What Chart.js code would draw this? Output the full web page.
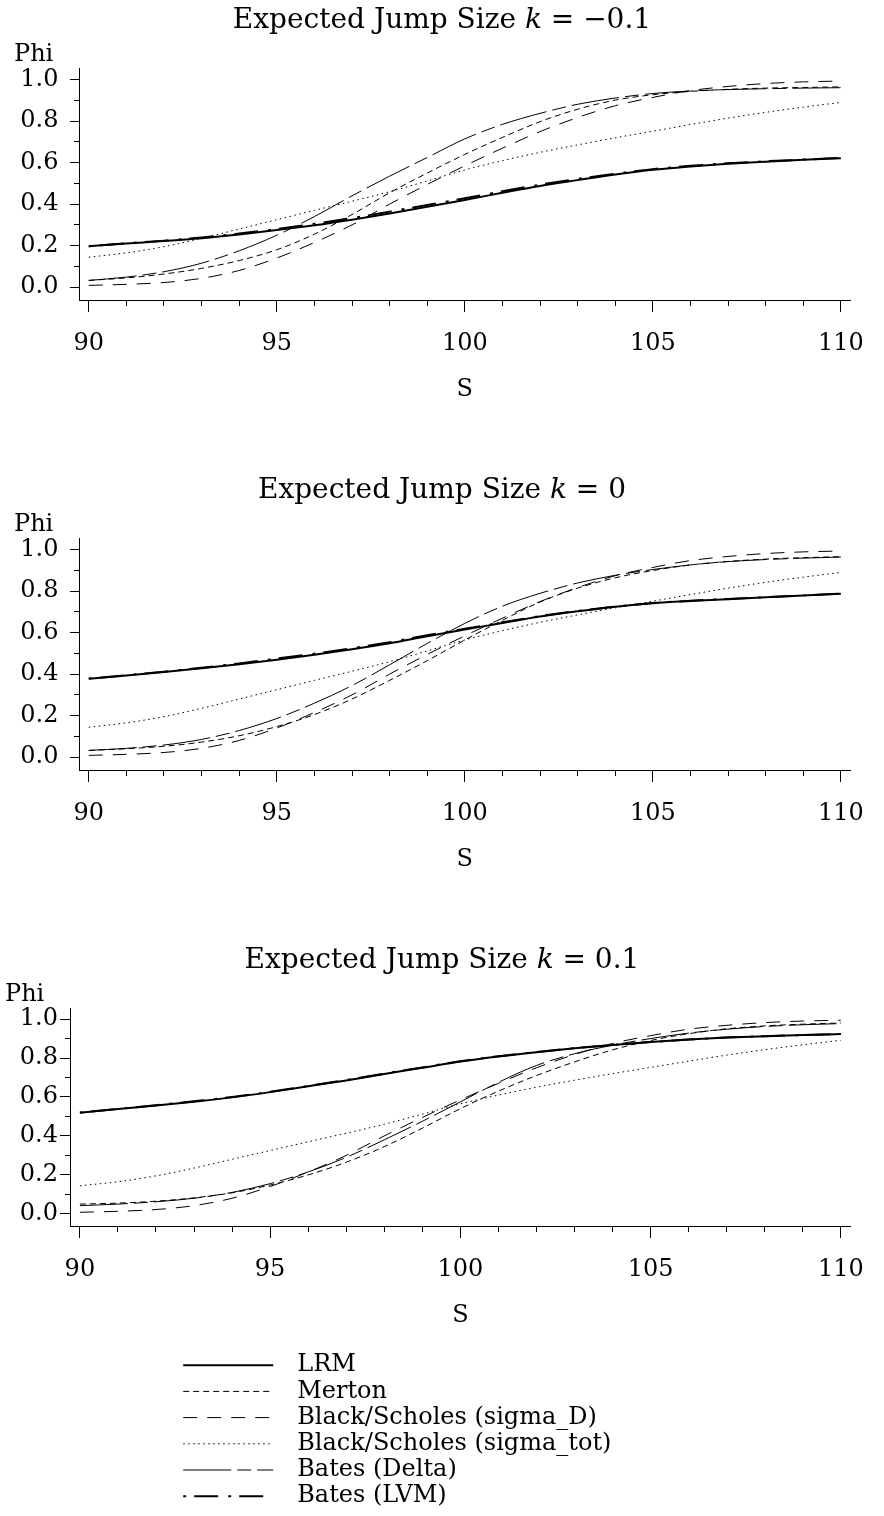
<!DOCTYPE html>
<html>
<head>
<meta charset="utf-8">
<script src="https://cdn.jsdelivr.net/npm/chart.js@4.4.1/dist/chart.umd.min.js"></script>
<style>
  html, body { margin: 0; padding: 0; background: #fff; }
  #page { position: relative; width: 884px; height: 1516px; overflow: hidden; }
  canvas { position: absolute; }
</style>
</head>
<body>
<div id="page">
  <canvas id="chartA" width="884" height="402" style="left:0;top:0"></canvas>
  <canvas id="chartB" width="884" height="402" style="left:0;top:470px"></canvas>
  <canvas id="chartC" width="884" height="388" style="left:0;top:940px"></canvas>
  <canvas id="legendChart" width="1000" height="165" style="left:181px;top:1351px"></canvas>
</div>
<script>
// stock price grid
var sValues = [90, 91, 92, 93, 94, 95, 96, 97, 98, 99, 100, 101, 102, 103, 104, 105, 106, 107, 108, 109, 110];
var jumpSizes = ['\u22120.1', '0', '0.1'];
var seriesNames = ['LRM', 'Merton', 'Black/Scholes (sigma_D)', 'Black/Scholes (sigma_tot)', 'Bates (Delta)', 'Bates (LVM)'];

// Black/Scholes curves are the same in all three panels
var bsSigmaD   = [0.008, 0.013, 0.022, 0.042, 0.08, 0.14, 0.215, 0.30, 0.40, 0.495, 0.585, 0.67, 0.75, 0.818, 0.875, 0.915, 0.948, 0.968, 0.982, 0.99, 0.994];
var bsSigmaTot = [0.144, 0.165, 0.195, 0.235, 0.28, 0.325, 0.37, 0.414, 0.46, 0.512, 0.565, 0.61, 0.65, 0.686, 0.72, 0.752, 0.784, 0.815, 0.843, 0.868, 0.891];

// k = -0.1
var lrmNeg        = [0.197, 0.21, 0.222, 0.236, 0.254, 0.275, 0.298, 0.325, 0.355, 0.387, 0.42, 0.455, 0.488, 0.516, 0.543, 0.566, 0.582, 0.595, 0.605, 0.614, 0.622];
var mertonNeg     = [0.032, 0.044, 0.063, 0.09, 0.128, 0.18, 0.255, 0.35, 0.455, 0.55, 0.64, 0.722, 0.798, 0.858, 0.902, 0.928, 0.944, 0.954, 0.96, 0.963, 0.966];
var batesDeltaNeg = [0.032, 0.048, 0.074, 0.115, 0.175, 0.25, 0.34, 0.44, 0.535, 0.625, 0.715, 0.785, 0.838, 0.882, 0.912, 0.934, 0.946, 0.953, 0.957, 0.96, 0.962];
var batesLvmNeg   = [0.197, 0.211, 0.224, 0.239, 0.258, 0.28, 0.305, 0.333, 0.364, 0.396, 0.428, 0.462, 0.494, 0.522, 0.547, 0.569, 0.585, 0.597, 0.607, 0.615, 0.623];

// k = 0
var lrmZero        = [0.378, 0.393, 0.41, 0.428, 0.448, 0.47, 0.494, 0.52, 0.549, 0.583, 0.615, 0.647, 0.678, 0.703, 0.725, 0.742, 0.753, 0.762, 0.771, 0.78, 0.788];
var mertonZero     = [0.032, 0.04, 0.052, 0.072, 0.103, 0.147, 0.205, 0.28, 0.37, 0.465, 0.565, 0.66, 0.748, 0.815, 0.865, 0.90, 0.927, 0.944, 0.955, 0.962, 0.967];
var batesDeltaZero = [0.032, 0.042, 0.058, 0.085, 0.128, 0.186, 0.26, 0.345, 0.445, 0.548, 0.645, 0.728, 0.79, 0.84, 0.877, 0.905, 0.927, 0.943, 0.953, 0.96, 0.965];
var batesLvmZero   = [0.379, 0.395, 0.412, 0.431, 0.452, 0.475, 0.499, 0.525, 0.554, 0.588, 0.619, 0.65, 0.68, 0.705, 0.726, 0.743, 0.754, 0.763, 0.771, 0.78, 0.788];

// k = 0.1
var lrmPos        = [0.519, 0.538, 0.556, 0.576, 0.598, 0.625, 0.655, 0.685, 0.718, 0.75, 0.782, 0.808, 0.83, 0.85, 0.867, 0.882, 0.895, 0.905, 0.912, 0.918, 0.923];
var mertonPos     = [0.05, 0.055, 0.065, 0.082, 0.108, 0.148, 0.20, 0.265, 0.345, 0.44, 0.54, 0.63, 0.71, 0.78, 0.842, 0.89, 0.925, 0.95, 0.965, 0.974, 0.98];
var batesDeltaPos = [0.042, 0.05, 0.062, 0.08, 0.11, 0.155, 0.215, 0.29, 0.38, 0.475, 0.575, 0.675, 0.762, 0.822, 0.866, 0.90, 0.928, 0.948, 0.962, 0.971, 0.977];
var batesLvmPos   = [0.52, 0.539, 0.558, 0.578, 0.6, 0.627, 0.657, 0.687, 0.72, 0.752, 0.783, 0.809, 0.831, 0.851, 0.867, 0.882, 0.895, 0.905, 0.912, 0.918, 0.923];

var lineStyles = [
    {width: 2, dash: []},
    {width: 1, dash: [6, 4]},
    {width: 1, dash: [14, 10]},
    {width: 1, dash: [1.5, 3.5]},
    {width: 1, dash: [48, 6, 14, 6]},
    {width: 2, dash: [3, 8, 24, 10]}
];

var X_MIN = 89.74, X_MAX = 110.26, Y_MIN = -0.0625, Y_MAX = 1.057;

Chart.defaults.font.family = '"DejaVu Serif", serif';
Chart.defaults.font.size = 24;
Chart.defaults.color = '#000';

function makeDatasets(columns) {
    return seriesNames.map(function (name, i) {
        var col = columns[i] || [];
        return {
            label: name,
            data: col.map(function (v, j) { return {x: sValues[j], y: v}; }),
            borderColor: '#000',
            backgroundColor: '#000',
            borderWidth: lineStyles[i].width,
            borderDash: lineStyles[i].dash,
            pointRadius: 0,
            cubicInterpolationMode: 'monotone',
            fill: false
        };
    });
}

// title with an italic k, drawn above the "Phi" subtitle
var kTitle = {
    id: 'kTitle',
    afterDraw: function (chart, args, opts) {
        var ctx = chart.ctx;
        var normal = '28px "DejaVu Serif"';
        var parts = [[opts.prefix, normal], ['k', 'italic ' + normal], [' = ' + opts.value, normal]];
        ctx.save();
        var total = 0;
        parts.forEach(function (p) { ctx.font = p[1]; total += ctx.measureText(p[0]).width; });
        var x = chart.width / 2 - total / 2;
        ctx.textBaseline = 'middle';
        ctx.fillStyle = '#000';
        parts.forEach(function (p) {
            ctx.font = p[1];
            ctx.fillText(p[0], x, 21);
            x += ctx.measureText(p[0]).width;
        });
        ctx.restore();
    }
};

function scalesFor(yTick, yPad) {
    var grid = {drawOnChartArea: false, color: '#000', tickColor: '#000', lineWidth: 1};
    return {
        x: {
            type: 'linear', axis: 'x', position: 'bottom', min: X_MIN, max: X_MAX,
            ticks: {stepSize: 5, includeBounds: false, padding: 20, maxRotation: 0, autoSkip: false,
                    font: {size: 24, lineHeight: 1}, callback: function (v) { return String(v); }},
            grid: Object.assign({}, grid, {tickLength: 12}),
            border: {color: '#000', width: 1},
            title: {display: true, text: 'S', font: {size: 24, lineHeight: 1}, padding: {top: 2, bottom: 0}}
        },
        xMinor: {
            type: 'linear', axis: 'x', position: {y: Y_MIN}, min: X_MIN, max: X_MAX,
            ticks: {display: false, stepSize: 1, includeBounds: false},
            grid: Object.assign({}, grid, {tickLength: 6}),
            border: {display: false}
        },
        y: {
            type: 'linear', axis: 'y', position: 'left', min: Y_MIN, max: Y_MAX,
            ticks: {stepSize: 0.2, includeBounds: false, padding: yPad,
                    font: {size: 24, lineHeight: 1}, callback: function (v) { return v.toFixed(1); }},
            grid: Object.assign({}, grid, {tickLength: yTick}),
            border: {color: '#000', width: 1},
            afterFit: function (s) { s.width = 65; }
        },
        yMinor: {
            type: 'linear', axis: 'y', position: {x: X_MIN}, min: Y_MIN, max: Y_MAX,
            ticks: {display: false, stepSize: 0.1, includeBounds: false},
            grid: Object.assign({}, grid, {tickLength: 5}),
            border: {display: false}
        }
    };
}

function panel(id, columns, k, padLeft, padRight, yTick, yPad) {
    return new Chart(document.getElementById(id), {
        type: 'line',
        data: {datasets: makeDatasets(columns)},
        plugins: [kTitle],
        options: {
            responsive: false,
            animation: false,
            events: [],
            layout: {padding: {top: 32.5, left: padLeft, right: padRight, bottom: 0}},
            scales: scalesFor(yTick, yPad),
            plugins: {
                legend: {display: false},
                tooltip: {enabled: false},
                subtitle: {display: true, text: 'Phi', align: 'start', color: '#000',
                           font: {size: 24, lineHeight: 1}, padding: {top: 10.5, bottom: 1}},
                kTitle: {prefix: 'Expected Jump Size ', value: k}
            }
        }
    });
}

panel('chartA', [lrmNeg, mertonNeg, bsSigmaD, bsSigmaTot, batesDeltaNeg, batesLvmNeg], jumpSizes[0], 14, 19, 9, 11.5);
panel('chartB', [lrmZero, mertonZero, bsSigmaD, bsSigmaTot, batesDeltaZero, batesLvmZero], jumpSizes[1], 14, 19, 9, 11.5);
panel('chartC', [lrmPos, mertonPos, bsSigmaD, bsSigmaTot, batesDeltaPos, batesLvmPos], jumpSizes[2], 5, 22, 10, 2);

// shared legend
new Chart(document.getElementById('legendChart'), {
    type: 'line',
    data: {datasets: makeDatasets([])},
    options: {
        responsive: false,
        animation: false,
        events: [],
        layout: {padding: 0},
        scales: {x: {display: false}, y: {display: false}},
        plugins: {
            tooltip: {enabled: false},
            legend: {
                position: 'left',
                align: 'start',
                labels: {
                    usePointStyle: true,
                    pointStyle: 'line',
                    pointStyleWidth: 90,
                    padding: 2.2,
                    color: '#000',
                    font: {size: 24},
                    generateLabels: function (chart) {
                        return Chart.defaults.plugins.legend.labels.generateLabels(chart).map(function (item) {
                            var st = lineStyles[item.datasetIndex];
                            item.text = '\u2002' + item.text;
                            item.lineDash = st.dash;
                            item.lineWidth = st.width;
                            item.strokeStyle = '#000';
                            return item;
                        });
                    }
                }
            }
        }
    }
});
</script>
</body>
</html>
